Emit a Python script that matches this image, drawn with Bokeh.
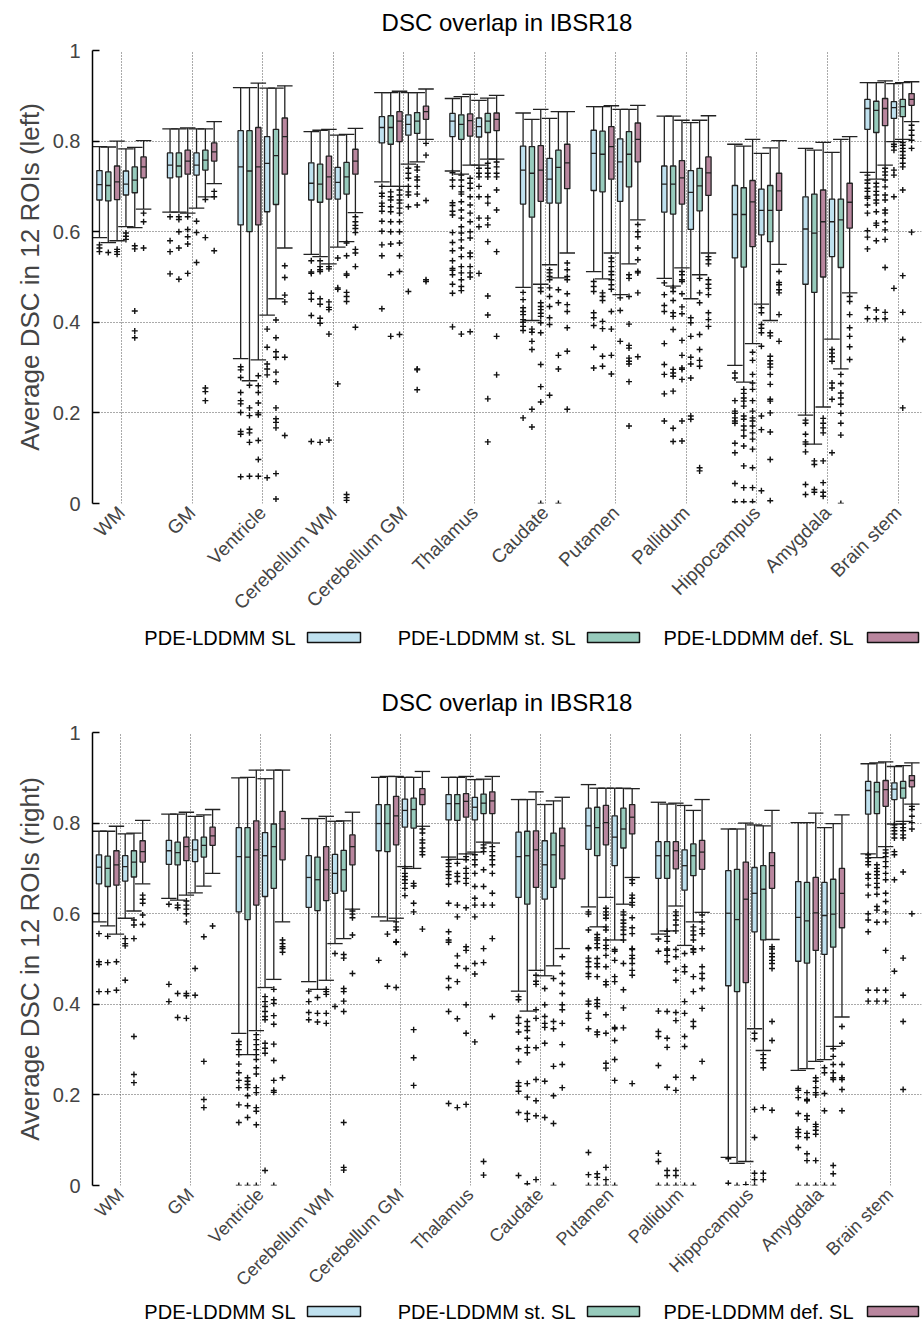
from bokeh.plotting import figure
from bokeh.models import Range1d, FixedTicker, ColumnDataSource
from bokeh.layouts import column
from bokeh.embed import file_html
from bokeh.resources import INLINE
from bokeh.core.properties import value

FONT = "Liberation Sans"

rois = ["WM", "GM", "Ventricle", "Cerebellum WM", "Cerebellum GM", "Thalamus",
        "Caudate", "Putamen", "Pallidum", "Hippocampus", "Amygdala", "Brain stem"]
methods = ["PDE-LDDMM SL", "PDE-LDDMM st. SL", "PDE-LDDMM def. SL"]
colors = ["#bfe1ef", "#97cbbc", "#b9869e"]
yticks = [0, 0.2, 0.4, 0.6, 0.8, 1]
ytick_labels = ["0", "0.2", "0.4", "0.6", "0.8", "1"]
title_text = "DSC overlap in IBSR18"
ylabel_top = "Average DSC in 12 ROIs (left)"
ylabel_bot = "Average DSC in 12 ROIs (right)"

# ---------------- top panel (left) : 12 ROIs x 6 boxes (SL, st.SL, def.SL, SL, st.SL, def.SL)
top_q1 = [
    [0.670, 0.668, 0.671, 0.681, 0.686, 0.719],
    [0.719, 0.721, 0.727, 0.725, 0.736, 0.756],
    [0.615, 0.600, 0.615, 0.644, 0.660, 0.727],
    [0.670, 0.665, 0.672, 0.672, 0.683, 0.727],
    [0.796, 0.793, 0.799, 0.813, 0.817, 0.848],
    [0.810, 0.804, 0.811, 0.809, 0.819, 0.823],
    [0.661, 0.632, 0.667, 0.663, 0.663, 0.695],
    [0.691, 0.688, 0.716, 0.667, 0.699, 0.754],
    [0.643, 0.639, 0.661, 0.605, 0.646, 0.680],
    [0.542, 0.522, 0.567, 0.593, 0.578, 0.647],
    [0.484, 0.466, 0.500, 0.545, 0.521, 0.608],
    [0.826, 0.819, 0.834, 0.850, 0.854, 0.879],
]
top_med = [
    [0.704, 0.702, 0.710, 0.705, 0.714, 0.743],
    [0.747, 0.745, 0.756, 0.747, 0.758, 0.776],
    [0.743, 0.734, 0.743, 0.751, 0.768, 0.810],
    [0.707, 0.705, 0.721, 0.709, 0.721, 0.756],
    [0.830, 0.830, 0.844, 0.837, 0.844, 0.865],
    [0.844, 0.837, 0.845, 0.832, 0.844, 0.848],
    [0.736, 0.729, 0.736, 0.716, 0.742, 0.752],
    [0.773, 0.771, 0.788, 0.754, 0.771, 0.804],
    [0.705, 0.705, 0.719, 0.687, 0.701, 0.730],
    [0.638, 0.638, 0.666, 0.647, 0.647, 0.690],
    [0.606, 0.597, 0.622, 0.622, 0.626, 0.665],
    [0.872, 0.868, 0.872, 0.874, 0.876, 0.892],
]
top_q3 = [
    [0.735, 0.732, 0.745, 0.734, 0.743, 0.765],
    [0.774, 0.774, 0.780, 0.774, 0.780, 0.796],
    [0.823, 0.823, 0.830, 0.810, 0.826, 0.851],
    [0.752, 0.749, 0.767, 0.742, 0.753, 0.782],
    [0.854, 0.856, 0.865, 0.858, 0.863, 0.877],
    [0.861, 0.858, 0.860, 0.851, 0.861, 0.862],
    [0.789, 0.788, 0.790, 0.762, 0.780, 0.793],
    [0.824, 0.822, 0.832, 0.805, 0.821, 0.840],
    [0.745, 0.745, 0.757, 0.735, 0.740, 0.765],
    [0.702, 0.697, 0.713, 0.694, 0.702, 0.729],
    [0.677, 0.683, 0.692, 0.672, 0.672, 0.707],
    [0.892, 0.888, 0.894, 0.887, 0.892, 0.905],
]
top_lo = [
    [0.587, 0.576, 0.580, 0.611, 0.609, 0.650],
    [0.643, 0.643, 0.641, 0.652, 0.677, 0.706],
    [0.320, 0.271, 0.317, 0.416, 0.452, 0.564],
    [0.550, 0.545, 0.529, 0.566, 0.578, 0.642],
    [0.710, 0.700, 0.700, 0.749, 0.754, 0.804],
    [0.734, 0.727, 0.747, 0.747, 0.760, 0.760],
    [0.477, 0.404, 0.484, 0.527, 0.498, 0.553],
    [0.512, 0.496, 0.553, 0.461, 0.529, 0.626],
    [0.497, 0.480, 0.520, 0.452, 0.505, 0.553],
    [0.305, 0.268, 0.353, 0.440, 0.404, 0.528],
    [0.195, 0.131, 0.213, 0.363, 0.297, 0.465],
    [0.731, 0.716, 0.747, 0.799, 0.804, 0.843],
]
top_hi = [
    [0.788, 0.787, 0.800, 0.783, 0.786, 0.801],
    [0.827, 0.827, 0.829, 0.827, 0.827, 0.843],
    [0.918, 0.918, 0.928, 0.917, 0.917, 0.922],
    [0.821, 0.824, 0.826, 0.813, 0.815, 0.828],
    [0.907, 0.907, 0.910, 0.907, 0.907, 0.915],
    [0.894, 0.898, 0.903, 0.890, 0.895, 0.901],
    [0.862, 0.848, 0.870, 0.850, 0.865, 0.865],
    [0.876, 0.876, 0.878, 0.870, 0.870, 0.879],
    [0.855, 0.855, 0.846, 0.841, 0.846, 0.856],
    [0.793, 0.789, 0.804, 0.773, 0.785, 0.801],
    [0.784, 0.780, 0.797, 0.775, 0.804, 0.810],
    [0.929, 0.929, 0.933, 0.927, 0.929, 0.931],
]
top_out = [
    [[0.571, 0.564, 0.556], [0.554], [0.561, 0.556, 0.550], [0.597, 0.590, 0.583],
     [0.569, 0.562, 0.425, 0.381, 0.366], [0.641, 0.622, 0.564]],
    [[0.633, 0.580, 0.556, 0.507], [0.633, 0.627, 0.600, 0.564, 0.495],
     [0.633, 0.605, 0.589, 0.573, 0.508], [0.623, 0.598, 0.532],
     [0.671, 0.587, 0.255, 0.247, 0.227], [0.689, 0.677, 0.558]],
    [[0.302, 0.295, 0.278, 0.245, 0.227, 0.220, 0.201, 0.159, 0.153, 0.059],
     [0.261, 0.211, 0.194, 0.164, 0.156, 0.135, 0.060],
     [0.282, 0.260, 0.245, 0.222, 0.200, 0.196, 0.139, 0.097, 0.060],
     [0.385, 0.345, 0.308, 0.297, 0.284, 0.057],
     [0.405, 0.366, 0.335, 0.323, 0.290, 0.269, 0.211, 0.187, 0.179, 0.167, 0.066, 0.010],
     [0.525, 0.499, 0.460, 0.445, 0.323, 0.150]],
    [[0.536, 0.511, 0.508, 0.464, 0.451, 0.415, 0.137],
     [0.536, 0.523, 0.516, 0.512, 0.452, 0.440, 0.409, 0.398, 0.135],
     [0.523, 0.518, 0.445, 0.433, 0.428, 0.374, 0.140],
     [0.542, 0.476, 0.473, 0.264],
     [0.575, 0.547, 0.507, 0.504, 0.466, 0.457, 0.446, 0.020, 0.013, 0.007],
     [0.633, 0.622, 0.614, 0.607, 0.598, 0.561, 0.553, 0.523, 0.389]],
    [[0.700, 0.685, 0.678, 0.663, 0.656, 0.645, 0.623, 0.601, 0.571, 0.547, 0.430],
     [0.688, 0.677, 0.670, 0.655, 0.644, 0.622, 0.600, 0.573, 0.505, 0.369],
     [0.692, 0.681, 0.670, 0.663, 0.652, 0.641, 0.622, 0.600, 0.575, 0.547, 0.512, 0.373],
     [0.740, 0.729, 0.718, 0.700, 0.688, 0.681, 0.655, 0.468],
     [0.743, 0.736, 0.721, 0.714, 0.700, 0.683, 0.659, 0.297, 0.295, 0.251],
     [0.795, 0.769, 0.669, 0.494, 0.490]],
    [[0.730, 0.714, 0.700, 0.664, 0.658, 0.645, 0.637, 0.598, 0.576, 0.558, 0.536, 0.519,
      0.515, 0.505, 0.484, 0.464, 0.390],
     [0.725, 0.714, 0.700, 0.688, 0.683, 0.666, 0.648, 0.630, 0.611, 0.597, 0.582, 0.564,
      0.545, 0.523, 0.509, 0.494, 0.479, 0.470, 0.374],
     [0.718, 0.707, 0.696, 0.677, 0.659, 0.641, 0.622, 0.600, 0.586, 0.553, 0.545, 0.523,
      0.509, 0.500, 0.379],
     [0.740, 0.729, 0.721, 0.700, 0.677, 0.630, 0.611, 0.508],
     [0.751, 0.740, 0.729, 0.721, 0.677, 0.663, 0.630, 0.615, 0.578, 0.458, 0.416, 0.231, 0.136],
     [0.754, 0.743, 0.729, 0.721, 0.692, 0.648, 0.556, 0.369, 0.284]],
    [[0.466, 0.450, 0.432, 0.424, 0.417, 0.406, 0.400, 0.391, 0.382, 0.189],
     [0.385, 0.378, 0.358, 0.340, 0.208, 0.169],
     [0.476, 0.468, 0.443, 0.435, 0.428, 0.420, 0.413, 0.399, 0.377, 0.307, 0.258, 0.224, 0.0],
     [0.516, 0.509, 0.501, 0.494, 0.476, 0.457, 0.435, 0.410, 0.395, 0.239],
     [0.472, 0.443, 0.327, 0.297, 0.0],
     [0.531, 0.516, 0.501, 0.494, 0.463, 0.439, 0.424, 0.388, 0.336, 0.208]],
    [[0.490, 0.479, 0.468, 0.421, 0.410, 0.393, 0.345, 0.299],
     [0.465, 0.457, 0.448, 0.402, 0.386, 0.325, 0.303],
     [0.542, 0.534, 0.523, 0.512, 0.505, 0.494, 0.483, 0.473, 0.424, 0.385, 0.327, 0.286],
     [0.454, 0.426, 0.358],
     [0.505, 0.497, 0.457, 0.396, 0.349, 0.343, 0.321, 0.314, 0.308, 0.269, 0.171],
     [0.616, 0.600, 0.589, 0.564, 0.538, 0.512, 0.509, 0.465, 0.324]],
    [[0.487, 0.461, 0.437, 0.424, 0.353, 0.307, 0.285, 0.242, 0.182],
     [0.476, 0.468, 0.448, 0.421, 0.413, 0.384, 0.296, 0.288, 0.281, 0.248, 0.166, 0.137],
     [0.512, 0.505, 0.494, 0.490, 0.463, 0.434, 0.419, 0.360, 0.327, 0.299, 0.296, 0.274,
      0.182, 0.138],
     [0.410, 0.399, 0.369, 0.323, 0.308, 0.277, 0.193, 0.186],
     [0.497, 0.465, 0.443, 0.373, 0.340, 0.316, 0.303, 0.079, 0.072],
     [0.545, 0.538, 0.529, 0.494, 0.484, 0.475, 0.461, 0.421, 0.406, 0.391]],
    [[0.288, 0.277, 0.227, 0.204, 0.199, 0.189, 0.182, 0.177, 0.133, 0.112, 0.044, 0.004],
     [0.252, 0.243, 0.233, 0.226, 0.215, 0.193, 0.186, 0.171, 0.162, 0.149, 0.127, 0.083,
      0.035, 0.004],
     [0.334, 0.316, 0.285, 0.266, 0.252, 0.227, 0.204, 0.189, 0.182, 0.171, 0.156, 0.142,
      0.120, 0.079, 0.035, 0.004],
     [0.432, 0.421, 0.395, 0.387, 0.377, 0.347, 0.193, 0.163, 0.028],
     [0.377, 0.370, 0.325, 0.315, 0.308, 0.301, 0.285, 0.263, 0.230, 0.226, 0.200, 0.158,
      0.097, 0.006],
     [0.512, 0.488, 0.483, 0.472, 0.465, 0.417, 0.358]],
    [[0.184, 0.177, 0.153, 0.136, 0.131, 0.114, 0.042, 0.020],
     [0.094, 0.086, 0.031, 0.025],
     [0.188, 0.177, 0.167, 0.156, 0.094, 0.046, 0.025, 0.016],
     [0.340, 0.332, 0.324, 0.314, 0.266, 0.255, 0.230, 0.112],
     [0.285, 0.265, 0.244, 0.233, 0.219, 0.199, 0.177, 0.151, 0.0],
     [0.457, 0.446, 0.417, 0.388, 0.369, 0.346, 0.318]],
    [[0.725, 0.714, 0.707, 0.696, 0.689, 0.678, 0.674, 0.659, 0.641, 0.602, 0.588, 0.562,
      0.432, 0.408],
     [0.707, 0.699, 0.689, 0.681, 0.670, 0.663, 0.644, 0.619, 0.614, 0.580, 0.427, 0.408],
     [0.740, 0.732, 0.725, 0.714, 0.699, 0.681, 0.670, 0.648, 0.641, 0.622, 0.604, 0.583,
      0.521, 0.422, 0.408],
     [0.793, 0.788, 0.780, 0.736, 0.725, 0.677, 0.475],
     [0.797, 0.791, 0.784, 0.777, 0.769, 0.762, 0.751, 0.743, 0.692, 0.503, 0.422, 0.362, 0.211],
     [0.835, 0.824, 0.813, 0.802, 0.784, 0.599]],
]

# ---------------- bottom panel (right)
bot_q1 = [
    [0.666, 0.660, 0.663, 0.672, 0.681, 0.714],
    [0.709, 0.708, 0.717, 0.715, 0.725, 0.751],
    [0.604, 0.587, 0.619, 0.638, 0.656, 0.719],
    [0.614, 0.607, 0.629, 0.645, 0.650, 0.708],
    [0.739, 0.737, 0.752, 0.791, 0.789, 0.841],
    [0.807, 0.806, 0.813, 0.807, 0.821, 0.821],
    [0.636, 0.621, 0.658, 0.632, 0.658, 0.677],
    [0.742, 0.728, 0.752, 0.706, 0.745, 0.776],
    [0.678, 0.678, 0.699, 0.652, 0.684, 0.698],
    [0.441, 0.428, 0.448, 0.560, 0.542, 0.656],
    [0.495, 0.491, 0.519, 0.510, 0.526, 0.569],
    [0.820, 0.821, 0.837, 0.852, 0.855, 0.880],
]
bot_med = [
    [0.703, 0.700, 0.708, 0.704, 0.714, 0.737],
    [0.739, 0.735, 0.748, 0.741, 0.751, 0.772],
    [0.726, 0.725, 0.741, 0.728, 0.748, 0.787],
    [0.680, 0.675, 0.697, 0.689, 0.697, 0.748],
    [0.799, 0.799, 0.816, 0.828, 0.830, 0.863],
    [0.843, 0.843, 0.848, 0.835, 0.844, 0.849],
    [0.726, 0.728, 0.741, 0.708, 0.730, 0.750],
    [0.794, 0.790, 0.801, 0.769, 0.787, 0.813],
    [0.728, 0.728, 0.739, 0.706, 0.728, 0.736],
    [0.601, 0.587, 0.632, 0.645, 0.654, 0.706],
    [0.592, 0.584, 0.602, 0.596, 0.599, 0.645],
    [0.872, 0.869, 0.874, 0.875, 0.877, 0.894],
]
bot_q3 = [
    [0.730, 0.727, 0.739, 0.728, 0.739, 0.761],
    [0.762, 0.758, 0.769, 0.763, 0.769, 0.791],
    [0.790, 0.790, 0.805, 0.779, 0.798, 0.826],
    [0.728, 0.725, 0.748, 0.731, 0.740, 0.774],
    [0.841, 0.841, 0.859, 0.853, 0.855, 0.876],
    [0.863, 0.863, 0.865, 0.857, 0.864, 0.869],
    [0.780, 0.782, 0.783, 0.761, 0.778, 0.789],
    [0.833, 0.835, 0.839, 0.816, 0.833, 0.841],
    [0.759, 0.759, 0.759, 0.741, 0.754, 0.762],
    [0.695, 0.698, 0.714, 0.702, 0.706, 0.735],
    [0.671, 0.669, 0.680, 0.669, 0.676, 0.700],
    [0.892, 0.890, 0.894, 0.889, 0.892, 0.905],
]
bot_lo = [
    [0.582, 0.573, 0.555, 0.590, 0.606, 0.666],
    [0.634, 0.630, 0.641, 0.646, 0.661, 0.689],
    [0.336, 0.289, 0.342, 0.437, 0.455, 0.582],
    [0.450, 0.433, 0.453, 0.534, 0.545, 0.610],
    [0.593, 0.584, 0.590, 0.704, 0.700, 0.793],
    [0.725, 0.720, 0.732, 0.736, 0.758, 0.756],
    [0.429, 0.385, 0.475, 0.463, 0.485, 0.523],
    [0.615, 0.571, 0.636, 0.542, 0.621, 0.680],
    [0.555, 0.562, 0.617, 0.530, 0.582, 0.603],
    [0.062, 0.049, 0.053, 0.346, 0.298, 0.543],
    [0.254, 0.258, 0.274, 0.278, 0.307, 0.372],
    [0.732, 0.724, 0.748, 0.798, 0.804, 0.842],
]
bot_hi = [
    [0.782, 0.782, 0.793, 0.776, 0.778, 0.806],
    [0.820, 0.820, 0.824, 0.815, 0.818, 0.830],
    [0.900, 0.901, 0.917, 0.898, 0.917, 0.917],
    [0.810, 0.810, 0.815, 0.804, 0.805, 0.824],
    [0.901, 0.903, 0.903, 0.901, 0.901, 0.914],
    [0.901, 0.901, 0.903, 0.896, 0.897, 0.903],
    [0.852, 0.852, 0.869, 0.841, 0.849, 0.857],
    [0.885, 0.877, 0.877, 0.877, 0.877, 0.876],
    [0.846, 0.842, 0.844, 0.839, 0.828, 0.852],
    [0.787, 0.787, 0.800, 0.796, 0.794, 0.828],
    [0.801, 0.801, 0.822, 0.790, 0.799, 0.818],
    [0.931, 0.933, 0.935, 0.925, 0.927, 0.933],
]
bot_out = [
    [[0.556, 0.494, 0.488, 0.428], [0.550, 0.492, 0.428], [0.494, 0.431],
     [0.545, 0.534, 0.529, 0.453], [0.586, 0.575, 0.545, 0.329, 0.245, 0.227],
     [0.641, 0.632, 0.623, 0.597, 0.576]],
    [[0.621, 0.444, 0.406], [0.619, 0.613, 0.424, 0.371],
     [0.628, 0.619, 0.610, 0.600, 0.582, 0.424, 0.419, 0.369], [0.479, 0.420],
     [0.549, 0.274, 0.190, 0.172], [0.573]],
    [[0.318, 0.311, 0.300, 0.289, 0.268, 0.249, 0.232, 0.216, 0.178, 0.139, 0.0],
     [0.238, 0.230, 0.223, 0.216, 0.198, 0.176, 0.150, 0.0],
     [0.333, 0.322, 0.311, 0.300, 0.289, 0.278, 0.260, 0.246, 0.216, 0.205, 0.172, 0.164,
      0.134, 0.0],
     [0.417, 0.406, 0.395, 0.384, 0.373, 0.366, 0.314, 0.303, 0.292, 0.033],
     [0.433, 0.410, 0.402, 0.375, 0.356, 0.312, 0.276, 0.232, 0.210, 0.206, 0.0],
     [0.542, 0.534, 0.527, 0.523, 0.515, 0.238]],
    [[0.429, 0.406, 0.382, 0.366], [0.415, 0.380, 0.361], [0.433, 0.428, 0.422, 0.380, 0.358],
     [0.512, 0.395], [0.510, 0.502, 0.435, 0.428, 0.407, 0.384, 0.139, 0.040, 0.034],
     [0.606, 0.599, 0.591, 0.553, 0.468]],
    [[0.497], [0.555, 0.440], [0.582, 0.571, 0.564, 0.538, 0.537, 0.437],
     [0.700, 0.689, 0.682, 0.675, 0.667, 0.656, 0.640, 0.510],
     [0.667, 0.661, 0.623, 0.604, 0.344, 0.282, 0.221],
     [0.787, 0.778, 0.763, 0.756, 0.745, 0.737, 0.730, 0.566]],
    [[0.719, 0.711, 0.704, 0.693, 0.686, 0.678, 0.665, 0.623, 0.560, 0.542, 0.537, 0.457,
      0.437, 0.384, 0.181],
     [0.711, 0.689, 0.682, 0.671, 0.619, 0.593, 0.507, 0.485, 0.450, 0.368, 0.172],
     [0.726, 0.719, 0.700, 0.689, 0.678, 0.667, 0.613, 0.527, 0.519, 0.479, 0.399, 0.336, 0.179],
     [0.730, 0.719, 0.708, 0.689, 0.660, 0.634, 0.619, 0.593, 0.490, 0.467, 0.317],
     [0.752, 0.745, 0.737, 0.697, 0.660, 0.619, 0.523, 0.492, 0.053, 0.023],
     [0.748, 0.737, 0.728, 0.719, 0.708, 0.689, 0.645, 0.619, 0.545, 0.373]],
    [[0.417, 0.410, 0.371, 0.358, 0.339, 0.302, 0.273, 0.227, 0.219, 0.208, 0.161, 0.022],
     [0.362, 0.351, 0.342, 0.325, 0.305, 0.293, 0.225, 0.195, 0.159, 0.146, 0.004],
     [0.464, 0.451, 0.444, 0.388, 0.369, 0.304, 0.234, 0.187, 0.154, 0.013],
     [0.435, 0.399, 0.373, 0.358, 0.349, 0.314, 0.230, 0.150],
     [0.457, 0.362, 0.346, 0.263, 0.198, 0.137, 0.0],
     [0.505, 0.468, 0.446, 0.424, 0.399, 0.388, 0.358, 0.311, 0.267, 0.216]],
    [[0.604, 0.599, 0.564, 0.525, 0.523, 0.502, 0.494, 0.483, 0.468, 0.461, 0.407, 0.400,
      0.380, 0.369, 0.346, 0.073, 0.024, 0.0],
     [0.554, 0.547, 0.542, 0.534, 0.525, 0.501, 0.490, 0.483, 0.461, 0.410, 0.402, 0.395,
      0.339, 0.333, 0.026, 0.018, 0.0],
     [0.612, 0.604, 0.597, 0.590, 0.571, 0.564, 0.542, 0.530, 0.523, 0.508, 0.483, 0.450,
      0.443, 0.377, 0.336, 0.270, 0.259, 0.040, 0.013, 0.0],
     [0.521, 0.517, 0.497, 0.461, 0.450, 0.349, 0.346, 0.320, 0.278, 0.232, 0.0],
     [0.604, 0.597, 0.586, 0.579, 0.571, 0.564, 0.554, 0.542, 0.490, 0.432, 0.392, 0.348],
     [0.675, 0.667, 0.641, 0.634, 0.625, 0.619, 0.591, 0.569, 0.556, 0.523, 0.521, 0.508,
      0.501, 0.490, 0.475, 0.464, 0.225]],
    [[0.544, 0.517, 0.385, 0.340, 0.329, 0.265, 0.071, 0.053, 0.0],
     [0.561, 0.550, 0.539, 0.522, 0.519, 0.508, 0.494, 0.384, 0.325, 0.305, 0.217, 0.033,
      0.022, 0.0],
     [0.604, 0.596, 0.586, 0.575, 0.562, 0.521, 0.505, 0.475, 0.453, 0.382, 0.364, 0.239,
      0.210, 0.033, 0.022, 0.0],
     [0.512, 0.483, 0.472, 0.406, 0.380, 0.329, 0.307, 0.0],
     [0.571, 0.562, 0.553, 0.542, 0.523, 0.521, 0.515, 0.461, 0.428, 0.362, 0.351, 0.238, 0.0],
     [0.597, 0.582, 0.566, 0.556, 0.523, 0.483, 0.468, 0.457, 0.435, 0.391, 0.274]],
    [[0.059, 0.005], [0.0], [0.002],
     [0.336, 0.324, 0.168, 0.106, 0.027, 0.013, 0.0],
     [0.289, 0.280, 0.271, 0.260, 0.172, 0.027, 0.013],
     [0.527, 0.522, 0.512, 0.505, 0.497, 0.490, 0.479, 0.362, 0.320, 0.166]],
    [[0.214, 0.210, 0.194, 0.159, 0.124, 0.117, 0.108, 0.084, 0.0],
     [0.205, 0.190, 0.187, 0.154, 0.146, 0.115, 0.106, 0.070, 0.055, 0.0],
     [0.238, 0.230, 0.216, 0.205, 0.200, 0.135, 0.130, 0.122, 0.113, 0.055, 0.0],
     [0.260, 0.249, 0.203, 0.165, 0.0],
     [0.302, 0.285, 0.267, 0.249, 0.238, 0.234, 0.044, 0.026, 0.0],
     [0.351, 0.314, 0.267, 0.238, 0.234, 0.212, 0.165]],
    [[0.730, 0.723, 0.715, 0.708, 0.687, 0.678, 0.663, 0.641, 0.600, 0.586, 0.560, 0.431, 0.407],
     [0.708, 0.700, 0.693, 0.686, 0.678, 0.667, 0.658, 0.643, 0.616, 0.608, 0.581, 0.431, 0.407],
     [0.741, 0.734, 0.726, 0.715, 0.704, 0.689, 0.675, 0.645, 0.627, 0.604, 0.582, 0.519,
      0.431, 0.407],
     [0.796, 0.790, 0.783, 0.776, 0.767, 0.737, 0.730, 0.675, 0.473],
     [0.798, 0.790, 0.783, 0.774, 0.767, 0.692, 0.502, 0.420, 0.362, 0.212],
     [0.837, 0.830, 0.815, 0.801, 0.787, 0.600]],
]

# ---------------- layout constants (pixels / data offsets)
BOX_STEP = 0.125
BOX_W = 0.075
CAP_W = 0.22
TOP_XRANGE = (0.589, 12.33)
BOT_XRANGE = (0.595, 12.45)
TOP_GROUP_SHIFT = [0] * 11 + [-0.123]
BOT_GROUP_SHIFT = [0] * 12
FIG_W = 924
BORDER_L = 92
BORDER_R = 3
FRAME_W = FIG_W - BORDER_L - BORDER_R
# legend geometry, in pixels from the frame's left edge
LEG_TEXT_RIGHT = [203, 483, 761]
LEG_SW_LEFT = [215, 495, 775]
LEG_SW_RIGHT = [268, 547, 826]


def strip(height):
    """A plain figure with no axes, used for the title and key rows."""
    f = figure(width=FIG_W, height=height, x_range=Range1d(0, FRAME_W),
               y_range=Range1d(0, height), toolbar_location=None,
               output_backend="svg", min_border_left=BORDER_L,
               min_border_right=BORDER_R, min_border_top=0, min_border_bottom=0,
               x_axis_type=None, y_axis_type=None)
    f.grid.visible = False
    f.outline_line_color = None
    return f


def build_title(height, dy):
    t = strip(height)
    t.text(x=[FRAME_W / 2], y=[height - dy], text=[title_text], text_align="center",
           text_baseline="middle", text_font=value(FONT), text_font_size="24px",
           text_color="black")
    return t


def build_legend(height, dy):
    # gnuplot-style key: text first, colour swatch to its right
    lf = strip(height)
    yc = height - dy
    lf.text(x=LEG_TEXT_RIGHT, y=[yc] * 3, text=methods, text_align="right",
            text_baseline="middle", text_font=value(FONT), text_font_size="20px",
            text_color="black")
    lf.quad(left=LEG_SW_LEFT, right=LEG_SW_RIGHT, bottom=[yc - 5] * 3, top=[yc + 5] * 3,
            fill_color=colors, line_color="#111111", line_width=1.5)
    return lf


def build_panel(ylabel, q1, med, q3, lo, hi, out, xr, gshift,
                top_b, frame_h, bottom_b, xlabel_size):
    p = figure(width=FIG_W, height=top_b + frame_h + bottom_b,
               x_range=Range1d(*xr), y_range=Range1d(0, 1),
               toolbar_location=None, output_backend="svg",
               min_border_left=BORDER_L, min_border_right=BORDER_R,
               min_border_top=top_b, min_border_bottom=bottom_b)
    p.outline_line_color = None

    xs, bq1, bmed, bq3, blo, bhi, bcol = [], [], [], [], [], [], []
    ox, oy = [], []
    for g in range(len(rois)):
        for k in range(6):
            x = g + 1 + gshift[g] + (k - 2.5) * BOX_STEP
            xs.append(x)
            bq1.append(q1[g][k]); bmed.append(med[g][k]); bq3.append(q3[g][k])
            blo.append(lo[g][k]); bhi.append(hi[g][k])
            bcol.append(colors[k % 3])
            for v in out[g][k]:
                ox.append(x); oy.append(v)
    src = ColumnDataSource(dict(
        x=xs, q1=bq1, med=bmed, q3=bq3, lo=blo, hi=bhi, col=bcol,
        xl=[x - BOX_W / 2 for x in xs], xr=[x + BOX_W / 2 for x in xs],
        cl=[x - CAP_W / 2 for x in xs], cr=[x + CAP_W / 2 for x in xs]))

    wk = dict(line_color="#222222", line_width=1.3)
    p.segment(x0="x", y0="q3", x1="x", y1="hi", source=src, **wk)
    p.segment(x0="x", y0="q1", x1="x", y1="lo", source=src, **wk)
    p.segment(x0="cl", y0="hi", x1="cr", y1="hi", source=src, **wk)
    p.segment(x0="cl", y0="lo", x1="cr", y1="lo", source=src, **wk)
    p.vbar(x="x", width=BOX_W, bottom="q1", top="q3", fill_color="col",
           line_color="#222222", line_width=1.3, source=src)
    p.segment(x0="xl", y0="med", x1="xr", y1="med", source=src, **wk)
    p.scatter(ox, oy, marker="cross", size=6, line_width=1.4, color="#111111")

    yax = p.yaxis[0]
    yax.ticker = FixedTicker(ticks=yticks)
    yax.major_label_overrides = {t: l for t, l in zip(yticks, ytick_labels)}
    yax.minor_tick_line_color = None
    yax.major_tick_in = 7
    yax.major_tick_out = 0
    yax.major_tick_line_width = 1.5
    yax.axis_line_width = 1.5
    yax.axis_line_color = "black"
    yax.major_label_standoff = 12
    yax.major_label_text_font = FONT
    yax.major_label_text_font_size = "20px"
    yax.axis_label = ylabel
    yax.axis_label_text_font = FONT
    yax.axis_label_text_font_size = "26px"
    yax.axis_label_text_font_style = "normal"
    yax.axis_label_standoff = 5

    xax = p.xaxis[0]
    xax.ticker = FixedTicker(ticks=list(range(1, len(rois) + 1)))
    xax.major_label_overrides = {i + 1: r for i, r in enumerate(rois)}
    xax.major_label_orientation = 0.7854
    xax.axis_line_color = None
    xax.major_tick_line_color = None
    xax.minor_tick_line_color = None
    xax.major_label_standoff = 0
    xax.major_label_text_font = FONT
    xax.major_label_text_font_size = xlabel_size

    p.xgrid.ticker = FixedTicker(ticks=list(range(1, len(rois) + 1)))
    p.ygrid.ticker = FixedTicker(ticks=yticks)
    for gr in (p.xgrid, p.ygrid):
        gr.grid_line_color = "#555555"
        gr.grid_line_dash = "1 2"
        gr.grid_line_width = 1
    return p


t1 = build_title(36, 22)
p1 = build_panel(ylabel_top, top_q1, top_med, top_q3, top_lo, top_hi, top_out,
                 TOP_XRANGE, TOP_GROUP_SHIFT, 14, 454, 119, "19px")
l1 = build_legend(63, 14)
t2 = build_title(32, 16)
p2 = build_panel(ylabel_bot, bot_q1, bot_med, bot_q3, bot_lo, bot_hi, bot_out,
                 BOT_XRANGE, BOT_GROUP_SHIFT, 14, 453, 114, "18px")
l2 = build_legend(24, 12)

layout = column(t1, p1, l1, t2, p2, l2, spacing=0)
open("out.html", "w").write(file_html(layout, INLINE))
